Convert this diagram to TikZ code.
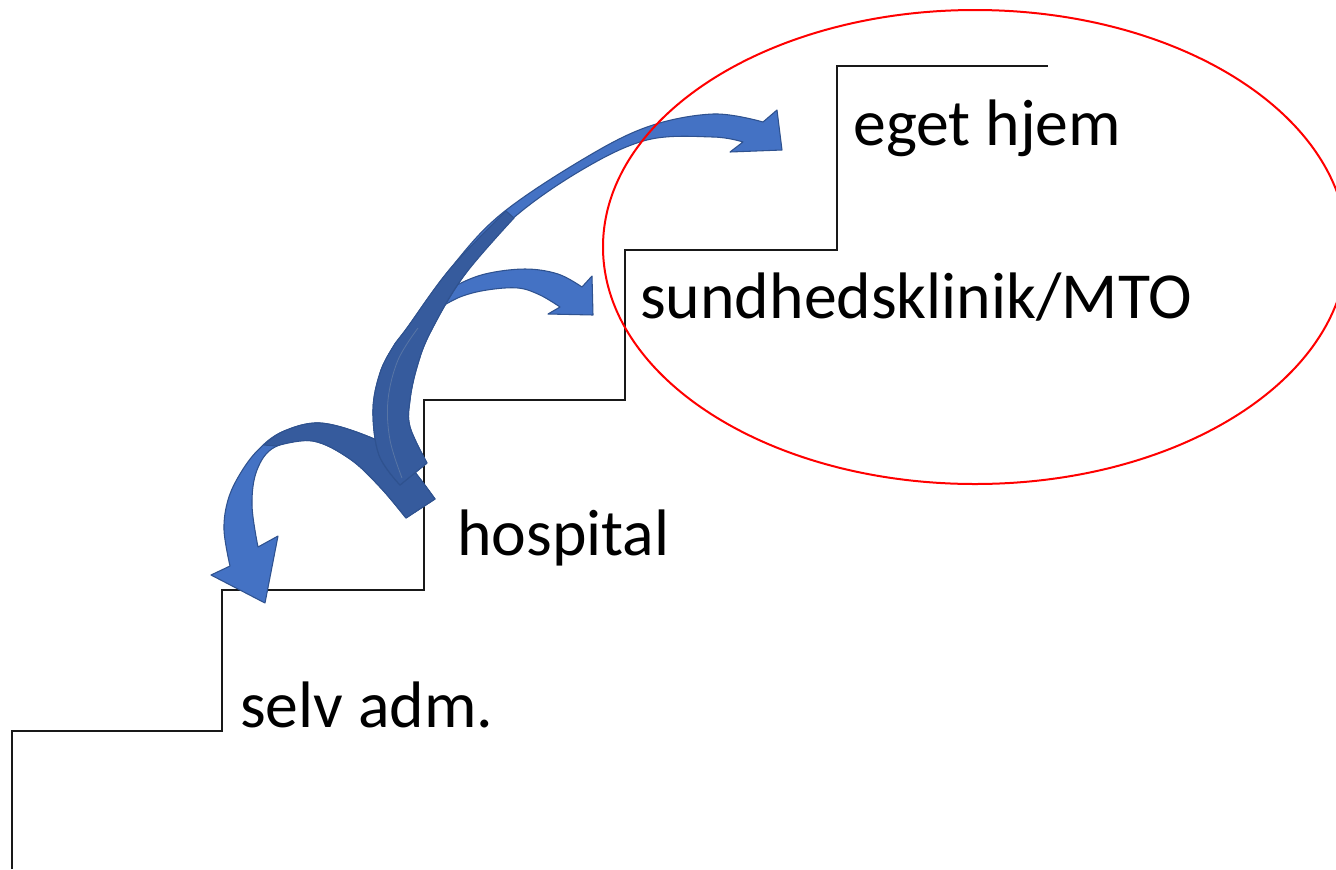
\documentclass[tikz,border=0pt]{standalone}
\usepackage{fontspec}
\setmainfont{Carlito}
\definecolor{lightblue}{HTML}{4472C4}
\definecolor{darkblue}{HTML}{365B9D}
\definecolor{edgeblue}{HTML}{2F528F}
\begin{document}
\begin{tikzpicture}[x=0.75pt,y=-0.75pt,
  stair/.style={draw=black!90, line width=1pt},
  lightarrow/.style={fill=lightblue, draw=edgeblue, line width=0.8pt, line join=round},
  darkpart/.style={fill=darkblue, draw=edgeblue, line width=0.8pt, line join=round},
  oval/.style={draw=red, line width=1.5pt},
  label/.style={anchor=base west, inner sep=0pt, font=\fontsize{49.3}{60}\selectfont}]
\useasboundingbox (0,0) rectangle (1336,869);
\clip (0,0) rectangle (1336,869);
% staircase
\coordinate (s0) at (12,869);
\coordinate (s1) at (12,731);
\coordinate (s2) at (222,731);
\coordinate (s3) at (222,590);
\coordinate (s4) at (424,590);
\coordinate (s5) at (424,400);
\coordinate (s6) at (625,400);
\coordinate (s7) at (625,250);
\coordinate (s8) at (837,250);
\coordinate (s9) at (837,66);
\coordinate (s10) at (1048,66);
\draw[stair] (s0) -- (s1) -- (s2) -- (s3) -- (s4) -- (s5) -- (s6) -- (s7) -- (s8) -- (s9) -- (s10);
% arrow 1: hospital -> selv adm.
\path[lightarrow] plot[smooth, tension=0.6] coordinates {(435,499) (400,455) (367,436) (320,423) (282,432) (258,450) (240,474) (228,500) (224,530) (230,566)}
  -- (211,575) -- (265,603) -- (278,536)
  -- plot[smooth, tension=0.6] coordinates {(258,547) (252,505) (257,470) (275,447) (313,441) (350,459) (380,487) (406,518)} -- cycle;
\path[darkpart] plot[smooth, tension=0.6] coordinates {(435,499) (400,455) (367,436) (320,423) (284,431) (264,445)}
  -- plot[smooth, tension=0.6] coordinates {(276,446) (313,441) (350,459) (380,487) (406,518)} -- cycle;
% arrow 3: hospital -> sundhedsklinik
\path[lightarrow] plot[smooth, tension=0.6] coordinates {(438,298) (455,286) (485,274) (525,269) (558,274) (582,287)}
  -- (592,276) -- (593,315) -- (548,314)
  -- plot[smooth, tension=0.6] coordinates {(560,307) (540,295) (518,288) (487,290) (460,297) (436,310)} -- cycle;
% arrow 2: hospital -> eget hjem
\path[lightarrow] plot[smooth, tension=0.6] coordinates {(400,485) (379,455) (373,410) (380,373) (393,347) (407,328) (450,269) (500,215) (580,161) (647,127) (713,114) (763,122)}
  -- (777,110) -- (782,150) -- (730,152)
  -- plot[smooth, tension=0.6] coordinates {(743,142) (713,137) (647,140) (580,171) (510,221) (463,277) (430,333) (417,367) (410,400) (410,427) (427,463)} -- cycle;
\path[darkpart] plot[smooth, tension=0.6] coordinates {(400,485) (379,455) (373,410) (380,373) (393,347) (407,328) (450,269) (506,211)}
  -- plot[smooth, tension=0.6] coordinates {(514,218) (463,277) (430,333) (417,367) (410,400) (410,427) (427,463)} -- cycle;
\draw[edgeblue!80, line width=0.6pt] plot[smooth, tension=0.6] coordinates {(402,478) (390,440) (388,400) (398,360) (418,328)};
% red ellipse
\draw[oval] (975,247) ellipse [x radius=372, y radius=237];
% labels
\node[label] (selv) at (240,727) {selv adm.};
\node[label] (hosp) at (457,555) {hospital};
\node[label] (klinik) at (640,318) {sundhedsklinik/MTO};
\node[label] (hjem) at (853,145) {eget hjem};
\end{tikzpicture}
\end{document}
